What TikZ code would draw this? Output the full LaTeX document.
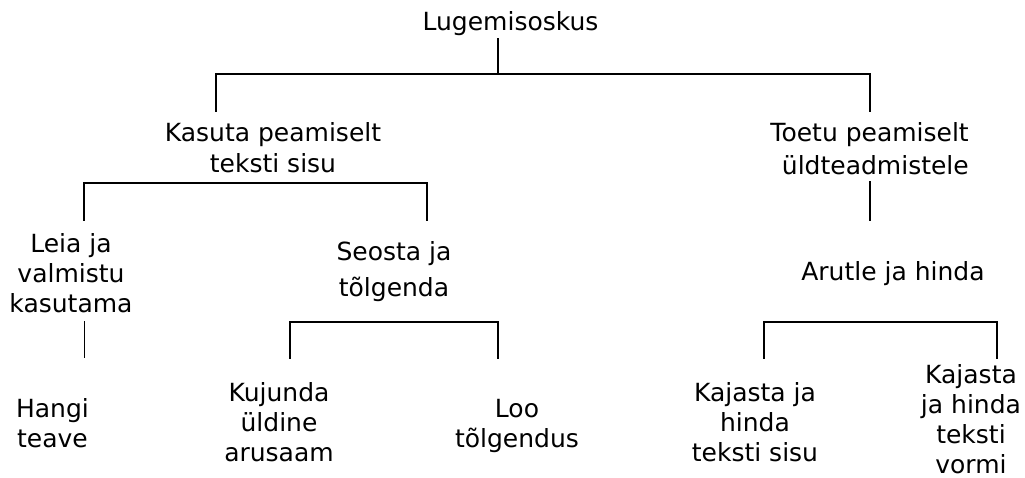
\documentclass[tikz,border=0pt]{standalone}
\usepackage{fontspec}
\setmainfont{DejaVu Sans}
\begin{document}
\begin{tikzpicture}[x=1pt,y=-1pt,
  lbl/.style={inner sep=0pt, align=center, anchor=base, font=\fontsize{25}{30}\selectfont},
  link/.style={line width=2pt, line cap=rect},
  thinlink/.style={line width=1pt}]
\useasboundingbox (0,0) rectangle (1025,478);

% labels (positioned by the baseline of their last line)
\node[lbl] (root)  at (510.5,30.7) {Lugemisoskus};
\node[lbl] (use)   at (273,173) {Kasuta peamiselt\\[1.5pt]teksti sisu};
\node[lbl, align=right, anchor=base east] (rely) at (969,175) {Toetu peamiselt\\[3.3pt]üldteadmistele};
\node[lbl] (find)  at (71,312.7) {Leia ja\\valmistu\\kasutama};
\node[lbl] (link)  at (394,297) {Seosta ja\\[6.3pt]tõlgenda};
\node[lbl] (eval)  at (893,280) {Arutle ja hinda};
\node[lbl] (get)   at (52.5,447.3) {Hangi\\teave};
\node[lbl] (form)  at (279,461.7) {Kujunda\\üldine\\arusaam};
\node[lbl] (make)  at (517,447) {Loo\\tõlgendus};
\node[lbl] (refc)  at (755,461.7) {Kajasta ja\\hinda\\teksti sisu};
\node[lbl] (reff)  at (971,473.5) {Kajasta\\ja hinda\\teksti\\vormi};

% junction points of the connectors
\coordinate (r0) at (498,39.5);
\coordinate (r1) at (498,74);
\coordinate (a0) at (216,74);  \coordinate (a1) at (216,111);
\coordinate (b0) at (870,74);  \coordinate (b1) at (870,111);
\coordinate (c0) at (84,183);  \coordinate (c1) at (84,220);
\coordinate (d0) at (427,183); \coordinate (d1) at (427,220);
\coordinate (e0) at (870,182); \coordinate (e1) at (870,220);
\coordinate (f0) at (84,321);  \coordinate (f1) at (84,358);
\coordinate (g0) at (290,322); \coordinate (g1) at (290,358);
\coordinate (h0) at (498,322); \coordinate (h1) at (498,358);
\coordinate (k0) at (764,322); \coordinate (k1) at (764,358);
\coordinate (m0) at (997,322); \coordinate (m1) at (997,358);

% connectors
\draw[link] (r0) -- (r1);
\draw[link] (a1) -- (a0) -- (b0) -- (b1);
\draw[link] (c1) -- (c0) -- (d0) -- (d1);
\draw[link] (e0) -- (e1);
\draw[thinlink] (f0) -- (f1);
\draw[link] (g1) -- (g0) -- (h0) -- (h1);
\draw[link] (k1) -- (k0) -- (m0) -- (m1);
\end{tikzpicture}
\end{document}
